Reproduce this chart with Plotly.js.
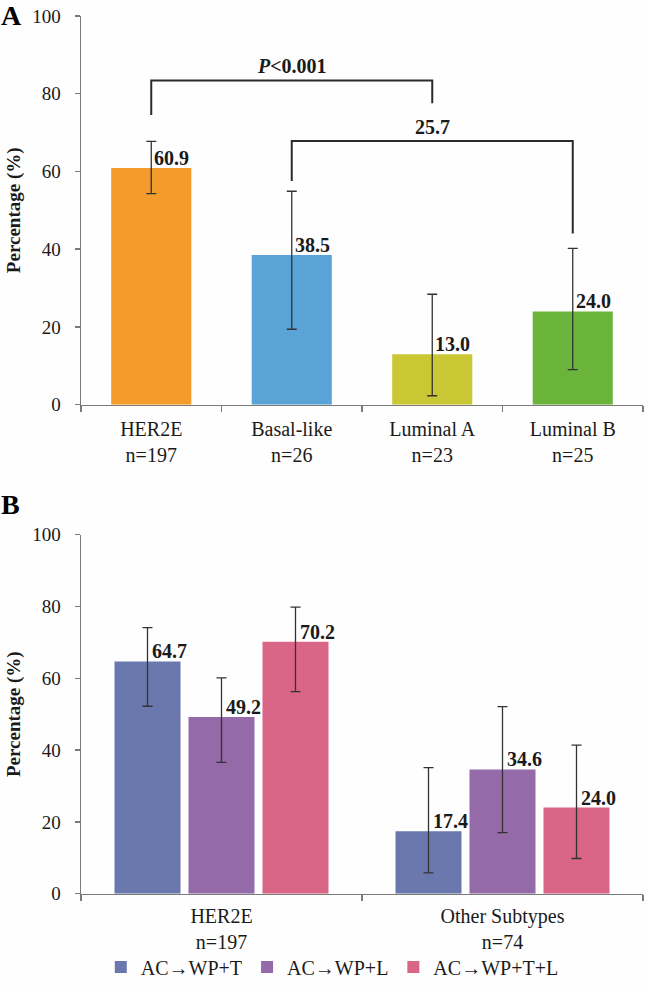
<!DOCTYPE html>
<html>
<head>
<meta charset="utf-8">
<script src="https://cdn.plot.ly/plotly-3.0.1.min.js"></script>
<style>html,body{margin:0;padding:0;background:#fefefe;}</style>
</head>
<body>
<div id="chart" style="width:649px;height:987px;"></div>
<script>
// ---- Panel A data ----
const catsA = ['HER2E', 'Basal-like', 'Luminal A', 'Luminal B'];
const nA = [197, 26, 23, 25];
const valA = [60.9, 38.5, 13.0, 24.0];
const hiA = [67.7, 54.9, 28.4, 40.2];
const loA = [54.3, 19.4, 2.3, 9.0];
const colorsA = ['#F39C2C', '#5AA3D6', '#C9C734', '#6BB43B'];

// significance brackets (category indices and y levels)
const bracketFrom = [0, 1];
const bracketTo = [2, 3];
const bracketStartY = [74.5, 57.5];
const bracketTopY = [83.4, 67.8];
const bracketEndY = [77.5, 44.0];
const bracketLabels = ['<i>P</i>&lt;0.001', '25.7'];

// ---- Panel B data ----
const catsB = ['HER2E', 'Other Subtypes'];
const nB = [197, 74];
const seriesB = ['AC\u2192WP+T', 'AC\u2192WP+L', 'AC\u2192WP+T+L'];
const valB_T = [64.7, 17.4];
const hiB_T = [74.1, 35.1];
const loB_T = [52.2, 5.8];
const valB_L = [49.2, 34.6];
const hiB_L = [60.1, 52.1];
const loB_L = [36.6, 17.0];
const valB_TL = [70.2, 24.0];
const hiB_TL = [79.8, 41.4];
const loB_TL = [56.3, 9.8];
const colorsB = ['#6A78AE', '#956AA8', '#D96587'];

const FONT = "'Liberation Serif', 'Times New Roman', Times, serif";
const TXT = '#1a1a1a';
const AXC = '#7a7a7a';
const ERRC = '#333333';
const BARGAP_B = 0.21;
const BARWIDTH_A = 0.57;

const labA = catsA.map((c, i) => c + '<br>n=' + nA[i]);
const labB = catsB.map((c, i) => c + '<br>n=' + nB[i]);

function errY(vals, hi, lo) {
  return {
    type: 'data', symmetric: false,
    array: vals.map((v, i) => hi[i] - v),
    arrayminus: vals.map((v, i) => v - lo[i]),
    color: ERRC, thickness: 1.3, width: 5
  };
}

const traces = [];
traces.push({
  type: 'bar', x: labA, y: valA, xaxis: 'x', yaxis: 'y', width: BARWIDTH_A,
  marker: {color: colorsA}, error_y: errY(valA, hiA, loA),
  showlegend: false, hoverinfo: 'skip'
});
const bVals = [valB_T, valB_L, valB_TL];
const bHi = [hiB_T, hiB_L, hiB_TL];
const bLo = [loB_T, loB_L, loB_TL];
seriesB.forEach((s, j) => {
  traces.push({
    type: 'bar', name: s, x: labB, y: bVals[j], xaxis: 'x2', yaxis: 'y2',
    marker: {color: colorsB[j]}, error_y: errY(bVals[j], bHi[j], bLo[j]),
    hoverinfo: 'skip'
  });
});

const annotations = [];
const shapes = [];
// value labels A
valA.forEach((v, i) => {
  annotations.push({
    xref: 'x', yref: 'y', x: i, y: v, text: '<b>' + v.toFixed(1) + '</b>',
    showarrow: false, xanchor: 'left', yanchor: 'bottom', xshift: 1, yshift: -3,
    font: {family: FONT, size: 20, color: TXT}
  });
});
// brackets A
bracketFrom.forEach((f, k) => {
  const t = bracketTo[k];
  shapes.push({
    type: 'path', xref: 'x', yref: 'y',
    path: 'M' + f + ',' + bracketStartY[k] + ' L' + f + ',' + bracketTopY[k] +
          ' L' + t + ',' + bracketTopY[k] + ' L' + t + ',' + bracketEndY[k],
    line: {color: '#2a2a2a', width: 2}
  });
  annotations.push({
    xref: 'x', yref: 'y', x: (f + t) / 2, y: bracketTopY[k],
    text: '<b>' + bracketLabels[k] + '</b>', showarrow: false,
    xanchor: 'center', yanchor: 'bottom', yshift: 1,
    font: {family: FONT, size: 20, color: TXT}
  });
});
// value labels B
const slot = (1 - BARGAP_B) / seriesB.length;
bVals.forEach((vals, j) => {
  vals.forEach((v, i) => {
    annotations.push({
      xref: 'x2', yref: 'y2', x: i + (j - 1) * slot, y: v,
      text: '<b>' + v.toFixed(1) + '</b>', showarrow: false,
      xanchor: 'left', yanchor: 'bottom', xshift: 2, yshift: -3,
      font: {family: FONT, size: 20, color: TXT}
    });
  });
});
// panel letters
annotations.push({xref: 'paper', yref: 'paper', x: 0, y: 1 - 15.5 / 987, text: '<b>A</b>',
  showarrow: false, xanchor: 'left', yanchor: 'middle', xshift: -1,
  font: {family: FONT, size: 28, color: '#000'}});
annotations.push({xref: 'paper', yref: 'paper', x: 0, y: 1 - 509 / 987, text: '<b>B</b>',
  showarrow: false, xanchor: 'left', yanchor: 'middle', xshift: -1,
  font: {family: FONT, size: 28, color: '#000'}});

const xDom = [81 / 649, 643 / 649];
function xAx(dom, standoff) {
  return {
    domain: dom, type: 'category', showline: true, linecolor: AXC, linewidth: 1.5,
    ticks: 'outside', tickson: 'boundaries', ticklen: 6, tickcolor: AXC, tickwidth: 1.5,
    showgrid: false, zeroline: false, fixedrange: true, ticklabelstandoff: standoff,
    tickfont: {family: FONT, size: 20, color: TXT}
  };
}
function yAx(dom) {
  return {
    domain: dom, range: [0, 100], tickvals: [0, 20, 40, 60, 80, 100],
    showline: true, linecolor: AXC, linewidth: 1.5,
    ticks: 'outside', ticklen: 5, tickcolor: AXC, tickwidth: 1.5,
    showgrid: false, zeroline: false, fixedrange: true,
    ticklabelstandoff: 10,
    tickfont: {family: FONT, size: 19, color: TXT},
    title: {text: '<b>Percentage (%)</b>', standoff: 6,
      font: {family: FONT, size: 19, color: TXT}}
  };
}

const layout = {
  width: 649, height: 987,
  margin: {l: 0, r: 0, t: 0, b: 0},
  paper_bgcolor: '#fefefe', plot_bgcolor: '#fefefe',
  font: {family: FONT, color: TXT},
  barmode: 'group', bargap: BARGAP_B, bargroupgap: 0.108,
  xaxis: Object.assign(xAx(xDom, 6), {anchor: 'y'}),
  yaxis: Object.assign(yAx([1 - 408 / 987, 1 - 16 / 987]), {anchor: 'x'}),
  xaxis2: Object.assign(xAx(xDom, 4), {anchor: 'y2'}),
  yaxis2: Object.assign(yAx([1 - 901 / 987, 1 - 539 / 987]), {anchor: 'x2'}),
  showlegend: true,
  legend: {
    orientation: 'h', x: 0.512, xanchor: 'center', y: 1 - 975 / 987, yanchor: 'middle',
    font: {family: FONT, size: 20, color: TXT}, bgcolor: 'rgba(0,0,0,0)',
    itemwidth: 30, tracegroupgap: 0
  },
  annotations: annotations,
  shapes: shapes
};

Plotly.newPlot('chart', traces, layout, {displayModeBar: false, staticPlot: true});
</script>
</body>
</html>
